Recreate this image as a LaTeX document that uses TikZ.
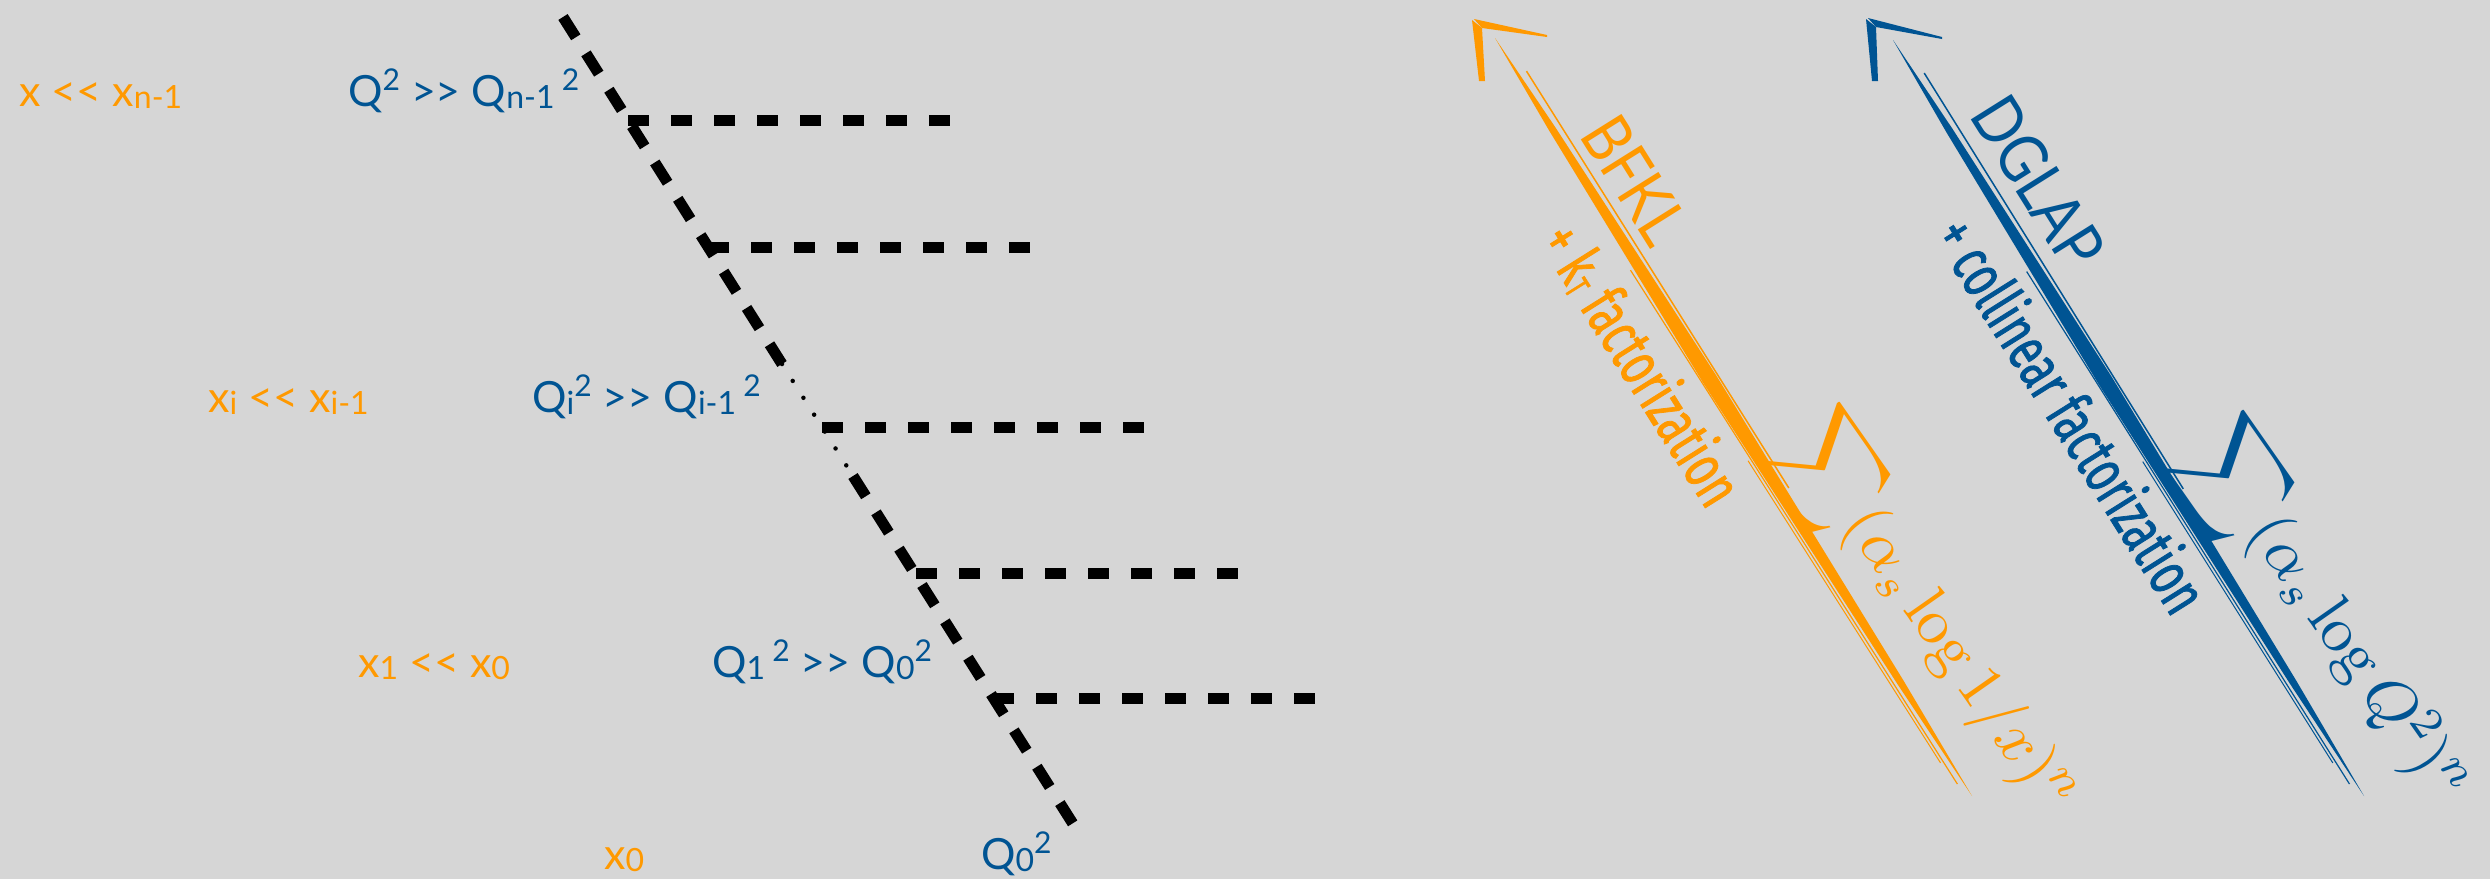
\documentclass[tikz,border=0pt]{standalone}
\usepackage{graphicx}
\usepackage{amsmath}
\usepackage[no-math]{fontspec}
\setmainfont{Lato}[Ligatures=ResetAll]
\newfontfamily\condfont[FakeStretch=0.66,FakeBold=1.2]{Fira Sans}
\newfontfamily\thinfont[FakeStretch=0.85]{Lato}
\usetikzlibrary{calc}
\definecolor{bg}{RGB}{214,214,214}
\definecolor{orng}{RGB}{255,153,0}
\definecolor{blu}{RGB}{0,84,147}
\newcommand\sbx[1]{\raisebox{-2.5pt}{\fontsize{32}{32}\selectfont #1}}
\newcommand\spx[1]{\raisebox{16pt}{\fontsize{30}{30}\selectfont #1}}
\newcommand\kt{k\raisebox{-4pt}{\fontsize{36}{36}\selectfont T}}
\newcommand\bigsum{\vcenter{\hbox{\scalebox{1.15}{$\displaystyle\sum$}}}}
\begin{document}
\begin{tikzpicture}[x=1pt,y=1pt,
  lbl/.style={anchor=base west, inner sep=0pt, font=\fontsize{43}{48}\selectfont},
  prop/.style={line width=11pt, dash pattern=on 24pt off 19pt},
  rung/.style={line width=11pt, dash pattern=on 21pt off 22pt},
  dots/.style={line width=4.5pt, line cap=round, dash pattern=on 0pt off 20pt},
  bigname/.style={rotate=-57.9, inner sep=0pt, font=\thinfont\fontsize{67}{70}\selectfont},
  factname/.style={rotate=-57.9, inner sep=0pt, font=\condfont\fontsize{64}{70}\selectfont},
  sumlbl/.style={rotate=-55, inner sep=0pt}]
\fill[bg] (0,0) rectangle (2490,-879);
\useasboundingbox (0,0) rectangle (2490,-879);

% ---- ladder ----
\coordinate (D0) at (563,-17);
\coordinate (Da) at (782,-364);
\coordinate (Db) at (853,-476);
\coordinate (D1) at (1075,-827);
\draw[prop] (D0) -- (Da);
\draw[dots] (Da) -- (Db);
\draw[prop] (Db) -- (D1);

\coordinate (r1) at (628,-120);  \coordinate (e1) at (950,-120);
\coordinate (r2) at (708,-247);  \coordinate (e2) at (1030,-247);
\coordinate (r3) at (822,-427);  \coordinate (e3) at (1144,-427);
\coordinate (r4) at (916,-573);  \coordinate (e4) at (1238,-573);
\coordinate (r5) at (993,-698);  \coordinate (e5) at (1315,-698);
\foreach \i in {1,...,5} {\draw[rung] (r\i) -- (e\i);}

% ---- left labels ----
\node[lbl,text=orng] (xn) at (19,-106) {x <{}< x\sbx{n-1}};
\node[lbl,text=blu] (qn) at (348,-106) {Q\spx{2} >{}> Q\sbx{n-1}\,\spx{2}};
\node[lbl,text=orng] (xi) at (208,-412) {x\sbx{i} <{}< x\sbx{i-1}};
\node[lbl,text=blu] (qi) at (532,-412) {Q\sbx{i}\spx{2} >{}> Q\sbx{i-1}\,\spx{2}};
\node[lbl,text=orng] (x1) at (358,-677) {x\sbx{1} <{}< x\sbx{0}};
\node[lbl,text=blu] (q1) at (712,-677) {Q\sbx{1}\,\spx{2} >{}> Q\sbx{0}\spx{2}};
\node[lbl,text=orng] (x0) at (604,-869) {x\sbx{0}};
\node[lbl,text=blu] (q0) at (981,-869) {Q\sbx{0}\spx{2}};

% ---- orange brush arrow (BFKL) ----
\coordinate (oT) at (1476,-22);
\coordinate (oA1) at (1547,-36);
\coordinate (oA2) at (1482,-81);
\coordinate (oS) at (1495,-38);
\coordinate (oE) at (1972,-796);
\fill[orng] (oS) -- ($(oS)!0.12!(oE)!3.5pt!90:(oE)$) -- ($(oS)!0.45!(oE)!7.5pt!90:(oE)$) -- ($(oS)!0.85!(oE)!3.5pt!90:(oE)$) -- (oE)
  -- ($(oS)!0.85!(oE)!3.5pt!-90:(oE)$) -- ($(oS)!0.45!(oE)!7.5pt!-90:(oE)$) -- ($(oS)!0.12!(oE)!3.5pt!-90:(oE)$) -- cycle;
\draw[orng, line width=1.5pt] ($(oS)!0.05!(oE)!9pt!90:(oE)$) -- ($(oS)!0.6!(oE)!9pt!90:(oE)$);
\draw[orng, line width=1.2pt] ($(oS)!0.3!(oE)!9pt!-90:(oE)$) -- ($(oS)!0.98!(oE)!6pt!-90:(oE)$);
\draw[orng, line width=1pt] ($(oS)!0.55!(oE)!11pt!-90:(oE)$) -- ($(oS)!0.95!(oE)!9pt!-90:(oE)$);
\fill[orng] ($(oT)+(-2,3)$) -- ($(oA1)+(0,1)$) -- ($(oA1)+(0,-1)$) -- ($(oT)+(6,-6)$) -- cycle;
\fill[orng] ($(oT)+(-4,2)$) -- ($(oA2)+(-3,0)$) -- ($(oA2)+(3,0)$) -- ($(oT)+(6,-6)$) -- cycle;

% ---- blue brush arrow (DGLAP) ----
\coordinate (bT) at (1870,-21);
\coordinate (bA1) at (1942,-38);
\coordinate (bA2) at (1875,-81);
\coordinate (bS) at (1893,-40);
\coordinate (bE) at (2364,-796);
\fill[blu] (bS) -- ($(bS)!0.12!(bE)!3.5pt!90:(bE)$) -- ($(bS)!0.45!(bE)!7.5pt!90:(bE)$) -- ($(bS)!0.85!(bE)!3.5pt!90:(bE)$) -- (bE)
  -- ($(bS)!0.85!(bE)!3.5pt!-90:(bE)$) -- ($(bS)!0.45!(bE)!7.5pt!-90:(bE)$) -- ($(bS)!0.12!(bE)!3.5pt!-90:(bE)$) -- cycle;
\draw[blu, line width=1.5pt] ($(bS)!0.05!(bE)!9pt!90:(bE)$) -- ($(bS)!0.6!(bE)!9pt!90:(bE)$);
\draw[blu, line width=1.2pt] ($(bS)!0.3!(bE)!9pt!-90:(bE)$) -- ($(bS)!0.98!(bE)!6pt!-90:(bE)$);
\draw[blu, line width=1pt] ($(bS)!0.55!(bE)!11pt!-90:(bE)$) -- ($(bS)!0.95!(bE)!9pt!-90:(bE)$);
\fill[blu] ($(bT)+(-2,3)$) -- ($(bA1)+(0,1)$) -- ($(bA1)+(0,-1)$) -- ($(bT)+(6,-6)$) -- cycle;
\fill[blu] ($(bT)+(-4,2)$) -- ($(bA2)+(-3,0)$) -- ($(bA2)+(3,0)$) -- ($(bT)+(6,-6)$) -- cycle;

% ---- right labels ----
\node[bigname, text=orng] (bfkl) at (1635,-180) {BFKL};
\node[factname, text=orng] (ktf) at (1642,-364) {+ \kt{} factorization};
\node[sumlbl, text=orng] (osum) at (1928,-618) {\scalebox{6.4}{$\bigsum(\alpha_s\log 1/x)^n$}};
\node[bigname, text=blu] (dglap) at (2038,-182) {DGLAP};
\node[factname, text=blu] (coll) at (2073,-414) {+ collinear factorization};
\node[sumlbl, text=blu] (bsum) at (2326,-617) {\scalebox{6.4}{$\bigsum(\alpha_s\log Q^2)^n$}};
\end{tikzpicture}
\end{document}
